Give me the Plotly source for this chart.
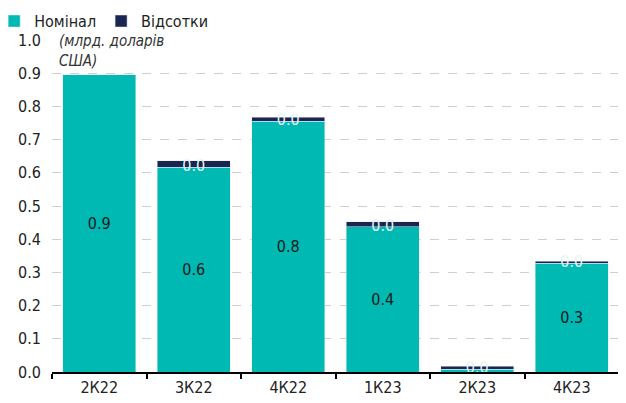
import plotly.graph_objects as go

categories = ["2К22", "3К22", "4К22", "1К23", "2К23", "4К23"]
nominal = [0.895, 0.617, 0.756, 0.437, 0.009, 0.328]
interest = [0.0, 0.020, 0.012, 0.015, 0.009, 0.006]
nominal_labels = ["0.9", "0.6", "0.8", "0.4", "", "0.3"]
interest_labels = ["", "0.0", "0.0", "0.0", "0.0", "0.0"]
y_ticks = [0.0, 0.1, 0.2, 0.3, 0.4, 0.5, 0.6, 0.7, 0.8, 0.9, 1.0]

TEAL = "#00B9B2"
NAVY = "#1B2552"
FONT = "DejaVu Sans Condensed, Liberation Sans Narrow, sans-serif"

fig = go.Figure()
fig.add_trace(go.Bar(
    x=categories, y=nominal, name="Номінал", marker_color=TEAL,
    text=nominal_labels, textposition="inside", insidetextanchor="middle",
    textfont=dict(color="#1a1a1a", size=16, family=FONT),
))
fig.add_trace(go.Bar(
    x=categories, y=interest, name="Відсотки", marker_color=NAVY,
))
fig.add_trace(go.Scatter(
    x=categories, y=nominal, mode="text", text=interest_labels,
    textposition="middle center", showlegend=False,
    textfont=dict(color="#e8f4f4", size=16, family=FONT),
    hoverinfo="skip",
))

fig.update_layout(
    barmode="stack", bargap=0.23,
    width=626, height=403,
    margin=dict(l=44, r=15, t=32, b=39, autoexpand=False),
    plot_bgcolor="white", paper_bgcolor="white",
    font=dict(family=FONT, size=16, color="#222"),
    legend=dict(orientation="h", x=-0.102, y=1.108, xref="paper", yref="paper",
                xanchor="left", yanchor="top", bgcolor="rgba(0,0,0,0)",
                font=dict(size=16, family=FONT), itemwidth=30,
                traceorder="normal", tracegroupgap=0),
    xaxis=dict(showline=True, linecolor="black", linewidth=1.5,
               ticks="outside", tickson="boundaries", ticklen=5, tickcolor="black",
               tickwidth=1.5, tickfont=dict(size=16)),
    yaxis=dict(range=[0, 1.0], tickvals=y_ticks, tickformat=".1f",
               showgrid=True, gridcolor="#cfcfcf", griddash="dash", gridwidth=1.2,
               zeroline=False, tickfont=dict(size=16), ticks="",
               ticklabelstandoff=10),
    annotations=[dict(text="<i>(млрд. доларів<br>США)</i>", x=0.008, y=1.03,
                      xref="paper", yref="paper", xanchor="left", yanchor="top",
                      showarrow=False, align="left", bgcolor="white",
                      font=dict(size=15, family=FONT, color="#333"))],
)
fig.write_html("out.html")
